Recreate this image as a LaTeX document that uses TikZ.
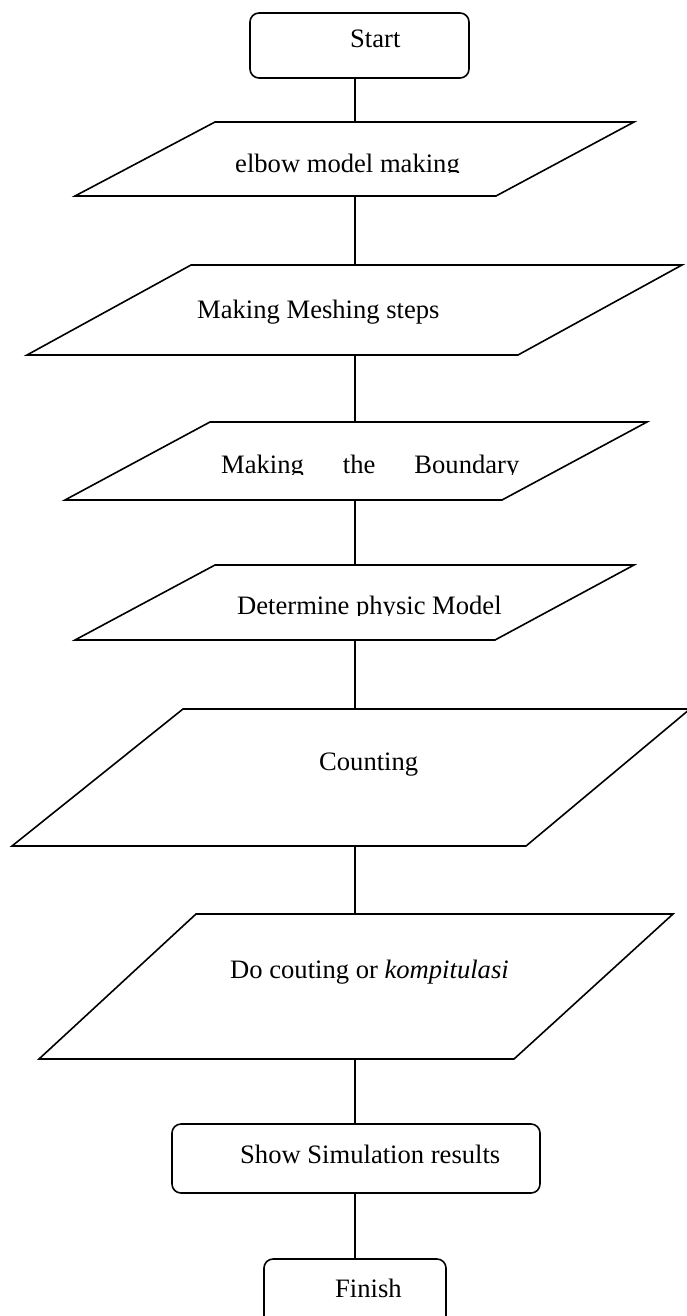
\documentclass[tikz,border=0pt]{standalone}
\usepackage{fontspec}
\setmainfont{Liberation Serif}
\begin{document}
\begin{tikzpicture}[x=1pt,y=-1pt,
  shapeline/.style={draw=black, line width=1.6pt, line join=miter},
  roundbox/.style={draw=black, line width=1.6pt, rounded corners=9pt},
  lbl/.style={inner sep=0pt, anchor=base west, font=\fontsize{26.6}{30}\selectfont},
  link/.style={draw=black, line width=1.6pt}]
\path[use as bounding box] (0,0) rectangle (687,1316);
\clip (0,0) rectangle (687,1316);
% Start
\draw[roundbox] (250,13) rectangle (469,78);
\node[lbl] (tstart) at (350,48) {Start};
\coordinate (start-b) at (355,78);
% P1
\draw[shapeline] (215,122) -- (634,122) -- (496,196) -- (75,196) -- cycle;
\coordinate (p1-t) at (355,122);
\coordinate (p1-b) at (355,196);
\begin{scope}
\clip (0,0) rectangle (687,173);
\node[lbl] (t1) at (235,172) {elbow model making};
\end{scope}
% P2
\draw[shapeline] (191,265) -- (682,265) -- (518,355) -- (27,355) -- cycle;
\coordinate (p2-t) at (355,265);
\coordinate (p2-b) at (355,355);
\node[lbl] (t2) at (197,318) {Making Meshing steps};
% P3
\draw[shapeline] (210,422) -- (647,422) -- (502,500) -- (65,500) -- cycle;
\coordinate (p3-t) at (355,422);
\coordinate (p3-b) at (355,500);
\begin{scope}
\clip (0,400) rectangle (687,474);
\node[lbl] (t3) at (221,473) {Making\hspace{39pt}the\hspace{39pt}Boundary};
\end{scope}
% P4
\draw[shapeline] (215,565) -- (634,565) -- (495,640) -- (75,640) -- cycle;
\coordinate (p4-t) at (355,565);
\coordinate (p4-b) at (355,640);
\begin{scope}
\clip (0,540) rectangle (687,615);
\node[lbl] (t4) at (237,614) {Determine physic Model};
\end{scope}
% P5
\draw[shapeline] (183,709) -- (690,709) -- (526,846) -- (12,846) -- cycle;
\coordinate (p5-t) at (355,709);
\coordinate (p5-b) at (355,846);
\node[lbl] (t5) at (319,770) {Counting};
% P6
\draw[shapeline] (196,914) -- (673,914) -- (514,1059) -- (39,1059) -- cycle;
\coordinate (p6-t) at (355,914);
\coordinate (p6-b) at (355,1059);
\node[lbl] (t6) at (230,978) {Do couting or \textit{kompitulasi}};
% Show
\draw[roundbox] (172,1124) rectangle (540,1193);
\node[lbl] (t7) at (240,1163) {Show Simulation results};
\coordinate (show-t) at (355,1124);
\coordinate (show-b) at (355,1193);
% Finish
\draw[roundbox] (264,1259) rectangle (446,1334);
\node[lbl] (t8) at (335,1297) {Finish};
\coordinate (fin-t) at (355,1259);
% connectors
\draw[link] (start-b) -- (p1-t);
\draw[link] (p1-b) -- (p2-t);
\draw[link] (p2-b) -- (p3-t);
\draw[link] (p3-b) -- (p4-t);
\draw[link] (p4-b) -- (p5-t);
\draw[link] (p5-b) -- (p6-t);
\draw[link] (p6-b) -- (show-t);
\draw[link] (show-b) -- (fin-t);
\end{tikzpicture}
\end{document}
